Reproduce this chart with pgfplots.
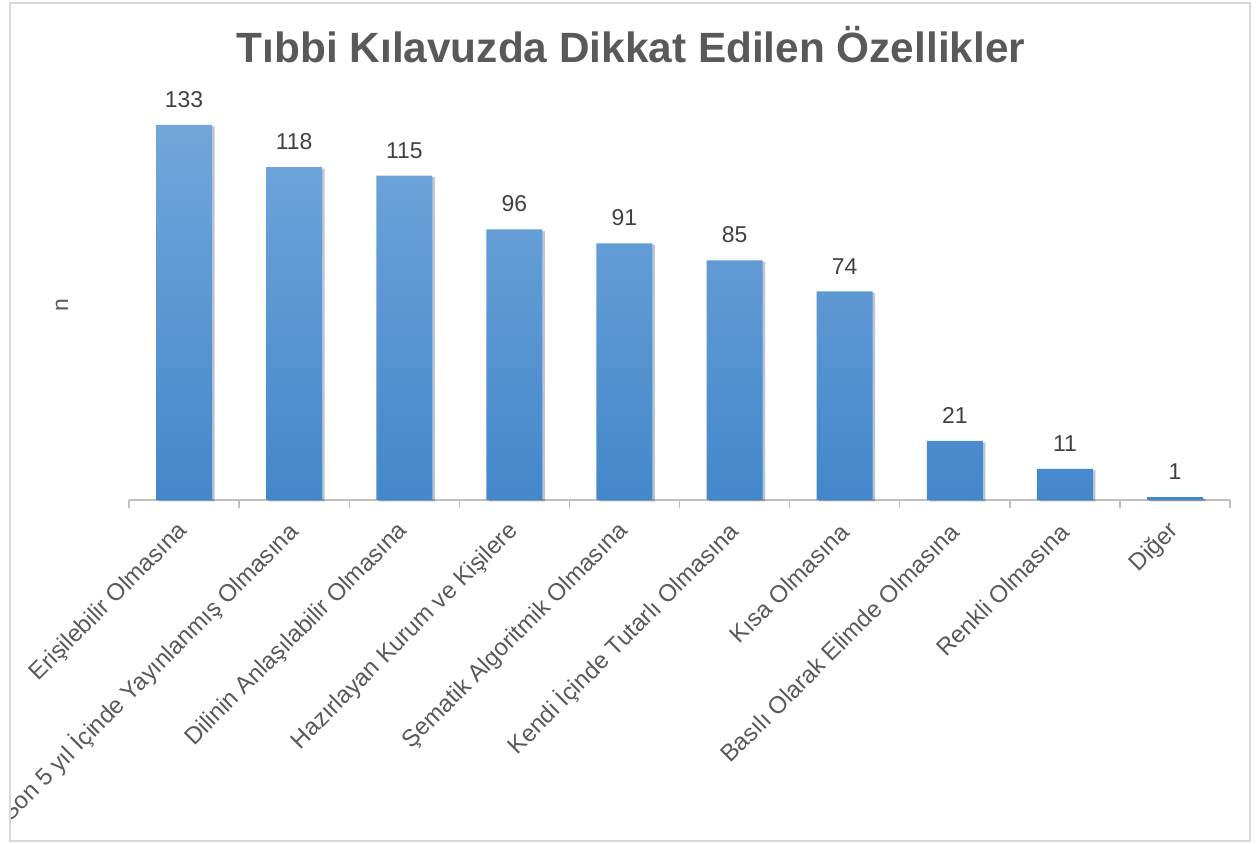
\documentclass[border=0pt]{standalone}
\usepackage{pgfplots}
\pgfplotsset{compat=1.18}
\usetikzlibrary{shadows}
\usepackage{fontspec}
\setmainfont{Liberation Sans}
\definecolor{txt}{HTML}{595959}
\definecolor{lab}{HTML}{404040}
\definecolor{axgray}{HTML}{BFBFBF}
\definecolor{framegray}{HTML}{D9D9D9}
\definecolor{bartop}{HTML}{72A6DA}
\definecolor{barbot}{HTML}{4387CB}
\begin{document}
\begin{tikzpicture}
\path[use as bounding box] (0,0) rectangle (1257bp,844bp);
\fill[white] (0,0) rectangle (1257bp,844bp);
\begin{scope}
\clip (10bp,3bp) rectangle (1250bp,841bp);
\begin{axis}[
  at={(129bp,344bp)}, anchor=south west, scale only axis,
  width=1101bp, height=394.8bp,
  xmin=-0.5, xmax=9.5, ymin=0, ymax=140,
  axis x line*=bottom, axis y line=none,
  ybar, bar width=56bp,
  clip=false,
  /pgf/number format/assume math mode=true,
  xtick={0,...,9},
  xticklabels={Erişilebilir Olmasına, Son 5 yıl İçinde Yayınlanmış Olmasına, Dilinin Anlaşılabilir Olmasına, Hazırlayan Kurum ve Kişilere, Şematik Algoritmik Olmasına, Kendi İçinde Tutarlı Olmasına, Kısa Olmasına, Basılı Olarak Elimde Olmasına, Renkli Olmasına, Diğer},
  major tick length=0pt,
  minor xtick={-0.5,0.5,...,9.5},
  minor tick length=8bp,
  tick align=outside,
  x axis line style={axgray, line width=1.3bp},
  minor tick style={axgray, line width=1.3bp},
  xticklabel style={rotate=45, anchor=east, font=\fontsize{24}{28}\selectfont, text=txt, inner sep=0pt, xshift=-19.5bp, yshift=-19.5bp},
  nodes near coords,
  every node near coord/.append style={font=\fontsize{23}{27}\selectfont, text=lab, inner sep=0pt, anchor=south, yshift=17bp},
]
\addplot[draw=none, top color=bartop, bottom color=barbot, drop shadow={opacity=0.18, shadow xshift=2.5bp, shadow yshift=-1.5bp, fill=black}] coordinates {(0,133) (1,118) (2,115) (3,96) (4,91) (5,85) (6,74) (7,21) (8,11) (9,1)};
\end{axis}
\end{scope}
\draw[framegray, line width=1.5bp] (10bp,3bp) rectangle (1250bp,841bp);
\node[anchor=base, font=\bfseries\fontsize{42.5}{50}\selectfont, text=txt, inner sep=0pt] at (631bp,781bp) {Tıbbi Kılavuzda Dikkat Edilen Özellikler};
\node[rotate=90, font=\fontsize{23}{27}\selectfont, text=txt] at (62bp,539bp) {n};
\end{tikzpicture}
\end{document}
